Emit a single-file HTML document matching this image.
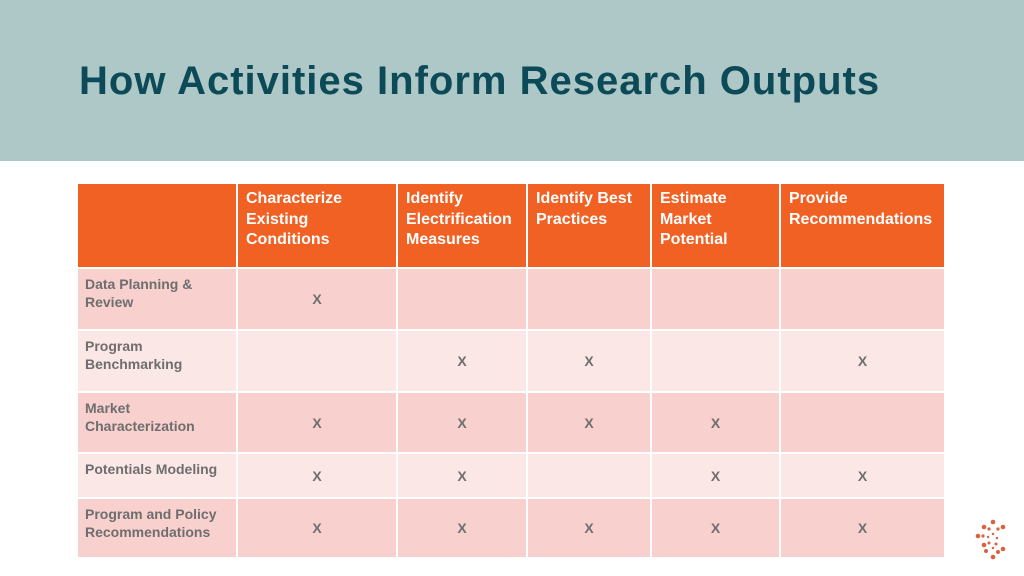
<!DOCTYPE html>
<html><head><meta charset="utf-8"><style>
body{margin:0;width:1024px;height:576px;position:relative;background:#fff;font-family:"Liberation Sans",sans-serif;overflow:hidden}
.band{position:absolute;left:0;top:0;width:1024px;height:161px;background:#adc8c6}
h1{position:absolute;left:79px;top:59px;margin:0;font-size:40px;font-weight:bold;color:#0c4a58;letter-spacing:1px}
.c{position:absolute;box-sizing:border-box;font-weight:bold}
.h{background:#f26124;color:#fff;font-size:16px;line-height:20.5px;padding:5px 8px}
.lab{color:#6e6e6e;font-size:14px;line-height:18px;padding:6px 7px}
.x{color:#6e6e6e;font-size:14px;display:flex;align-items:center;justify-content:center}
</style></head><body>
<div class="band"></div>
<h1>How Activities Inform Research Outputs</h1>
<div id="t"></div>
<svg style="position:absolute;left:972px;top:518px" width="44" height="46">
<g fill="#d9613f">
<circle cx="21" cy="4" r="2.3"/><circle cx="12" cy="9" r="2.3"/><circle cx="31" cy="9" r="2.3"/><circle cx="6" cy="18" r="2.3"/>
<circle cx="12" cy="27" r="2.3"/><circle cx="21" cy="39" r="2.3"/><circle cx="31" cy="31" r="2.3"/><circle cx="14" cy="33" r="2"/>
<circle cx="26" cy="34" r="2"/><circle cx="17" cy="11" r="1.6"/><circle cx="26" cy="11" r="1.6"/><circle cx="11" cy="18" r="1.6"/>
<circle cx="17" cy="25" r="1.5"/><circle cx="24" cy="26" r="1.5"/><circle cx="21" cy="16" r="1.2"/><circle cx="16" cy="19" r="1.2"/>
<circle cx="25" cy="20" r="1.2"/><circle cx="21" cy="30" r="1.2"/>
</g></svg>
<script>
const cols=[78,238,398,528,652,781,946];
const rows=[184,269,331,393,454,499,559];
const heads=["Characterize<br>Existing<br>Conditions","Identify<br>Electrification<br>Measures","Identify Best<br>Practices","Estimate<br>Market<br>Potential","Provide<br>Recommendations"];
const labels=["Data Planning &amp;<br>Review","Program<br>Benchmarking","Market<br>Characterization","Potentials Modeling","Program and Policy<br>Recommendations"];
const marks=[[1,0,0,0,0],[0,1,1,0,1],[1,1,1,1,0],[1,1,0,1,1],[1,1,1,1,1]];
const t=document.getElementById('t');
function cell(cls,c,r,html,bg){const d=document.createElement('div');d.className='c '+cls;
d.style.left=cols[c]+'px';d.style.top=rows[r]+'px';d.style.width=(cols[c+1]-cols[c]-2)+'px';d.style.height=(rows[r+1]-rows[r]-2)+'px';
if(bg)d.style.background=bg;d.innerHTML=html;t.appendChild(d);return d;}
let d=cell('h',0,0,'');


heads.forEach((h,i)=>{const e=cell('h',i+1,0,h);

});
labels.forEach((l,r)=>{const bg=r%2==0?'#f8d0ce':'#fbe7e6';
const e=cell('lab',0,r+1,l,bg);


marks[r].forEach((m,c)=>{const x=cell('x',c+1,r+1,m?'X':'',bg);

});});
</script>
</body></html>
